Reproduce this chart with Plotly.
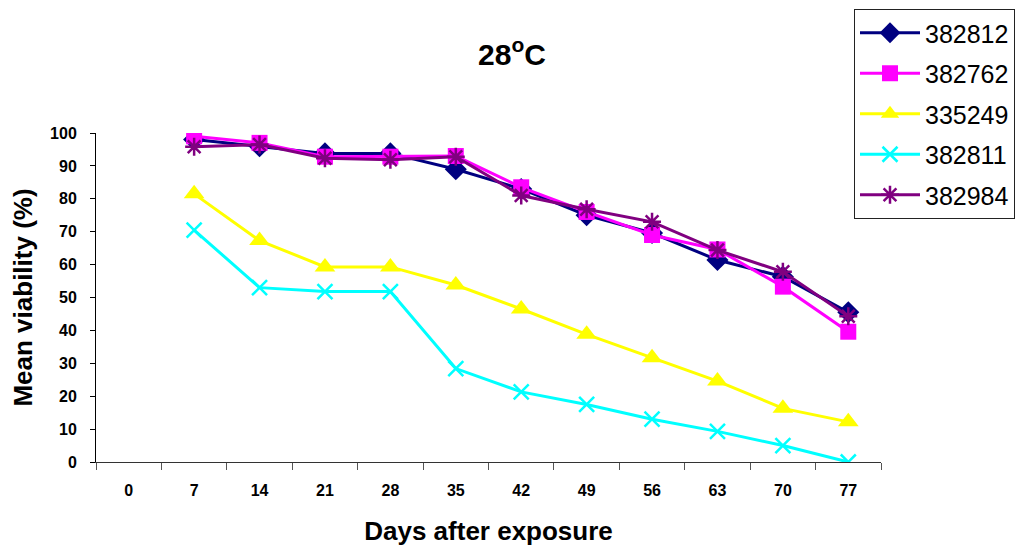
import plotly.graph_objects as go

categories = ["0", "7", "14", "21", "28", "35", "42", "49", "56", "63", "70", "77"]
days = ["7", "14", "21", "28", "35", "42", "49", "56", "63", "70", "77"]

s382812 = [98, 96, 93.8, 93.8, 89, 83, 75, 69.6, 61.4, 56.3, 45.5]
s382762 = [99, 97, 92.8, 92.8, 93, 83.5, 76, 69, 64.6, 53.3, 39.6]
s335249 = [81.5, 67.3, 59.3, 59.3, 53.8, 46.5, 38.8, 31.7, 24.6, 16.3, 12.2]
s382811 = [70.5, 53, 51.8, 51.8, 28.4, 21.3, 17.5, 13, 9.3, 5, 0]
s382984 = [95.8, 96.5, 92.3, 91.9, 92.8, 81, 76.8, 73, 64.4, 57.8, 44.3]

series = [
    ("382812", s382812, "#000080", "diamond", 17),
    ("382762", s382762, "#FF00FF", "square", 16),
    ("335249", s335249, "#FFFF00", "triangle-up", 18),
    ("382811", s382811, "#00FFFF", "x-thin-open", 15),
    ("382984", s382984, "#800080", "asterisk-open", 15),
]

fig = go.Figure()
for i, (name, vals, color, sym, size) in enumerate(series):
    open_sym = sym.endswith("open")
    fig.add_trace(go.Scatter(
        x=days, y=vals, name=name, mode="lines+markers",
        line=dict(color=color, width=3),
        marker=dict(symbol=sym, size=size, color=color,
                    line=dict(color=color, width=2.5 if open_sym else 0)),
        legendgroup=f"g{i}",
    ))

font_family = "Liberation Sans, Arial, sans-serif"
W, H = 1026, 545  # page body adds 8px offset

fig.update_layout(
    width=W, height=H,
    margin=dict(l=88, r=W - 873, t=125, b=H - 454, autoexpand=False),
    paper_bgcolor="white", plot_bgcolor="white",
    font=dict(family=font_family, color="black"),
    title=dict(text="<b>28<sup>o</sup>C</b>", x=504 / W, xref="container",
               y=1 - 46 / H, yref="container", xanchor="center", yanchor="middle",
               font=dict(size=30, family=font_family, color="black")),
    legend=dict(x=846 / W, xref="container", y=1 - 1 / H, yref="container",
                xanchor="left", yanchor="top",
                font=dict(size=25, family=font_family, color="black"),
                bordercolor="#222", borderwidth=1, bgcolor="white",
                tracegroupgap=5, itemsizing="trace", itemwidth=60),
    showlegend=True,
)

fig.update_xaxes(
    type="category", categoryorder="array", categoryarray=categories,
    tickvals=categories, ticktext=[f"<b>{c}</b>" for c in categories],
    range=[-0.5, 11.5], tickson="boundaries",
    ticks="outside", ticklen=7, tickcolor="#555", tickwidth=1,
    showline=True, linecolor="#333", linewidth=1, showgrid=False, zeroline=False,
    tickfont=dict(size=16, family=font_family, color="black"),
    ticklabelstandoff=14,
    title=dict(text="<b>Days after exposure</b>", font=dict(size=26, family=font_family, color="black"), standoff=23),
)
fig.update_yaxes(
    range=[0, 100], dtick=10, tick0=0,
    tickvals=list(range(0, 101, 10)), ticktext=[f"<b>{v}</b>" for v in range(0, 101, 10)],
    ticks="outside", ticklen=5, tickcolor="black", tickwidth=1,
    showline=True, linecolor="black", linewidth=1, showgrid=False, zeroline=False,
    tickfont=dict(size=16, family=font_family, color="black"),
    ticklabelstandoff=10,
    title=dict(text="<b>Mean viability (%)</b>", font=dict(size=26, family=font_family, color="black"), standoff=10),
)

fig.write_html("out.html")
